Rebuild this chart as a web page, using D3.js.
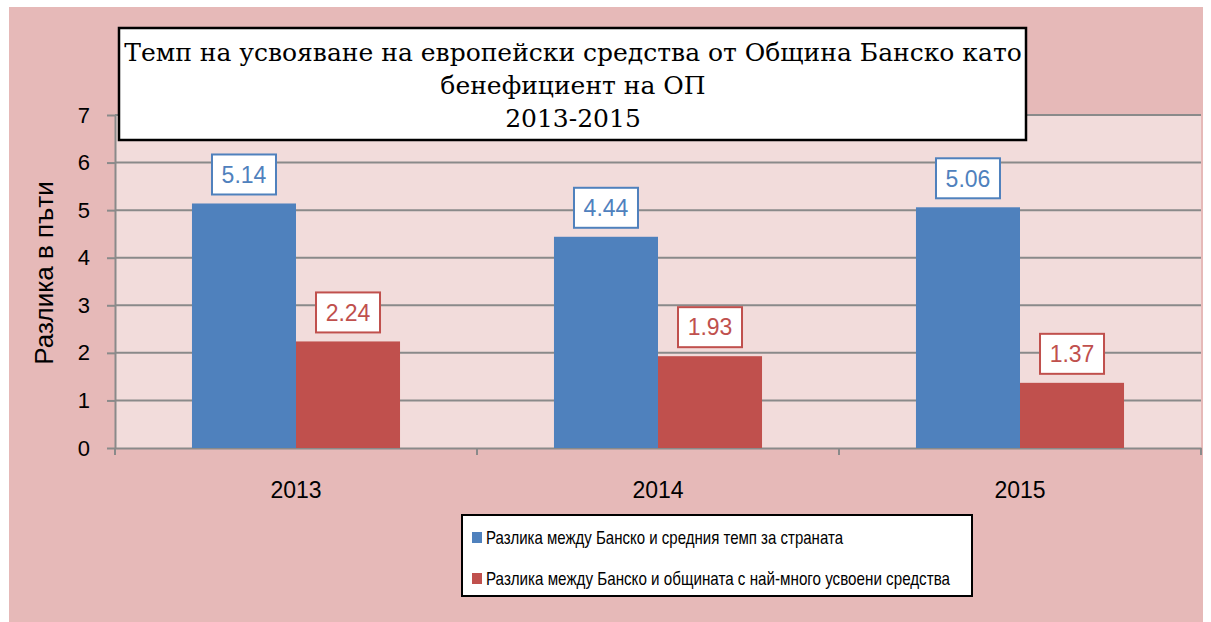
<!DOCTYPE html>
<html>
<head>
<meta charset="utf-8">
<script src="https://cdn.jsdelivr.net/npm/d3@7"></script>
<style>
  body { margin: 0; background: #fff; }
  svg { display: block; }
</style>
</head>
<body>
<div class="chart"></div>
<script>
/* Chart data
--------------------------------------------------- */
const years = ['2013', '2014', '2015'];
const seriesNames = [
  'Разлика между Банско и средния темп за страната',
  'Разлика между Банско и общината с най-много усвоени средства',
];
const avgDiff = [5.14, 4.44, 5.06];
const topDiff = [2.24, 1.93, 1.37];
const yTicks = [0, 1, 2, 3, 4, 5, 6, 7];
const titleLines = ['Темп на усвояване на европейски средства от Община Банско като', 'бенефициент на ОП', '2013-2015'];
const yTitle = 'Разлика в пъти';

const colors = ['#4F81BD', '#C0504D'];
const sansFont = "'Liberation Sans', Arial, sans-serif";

/* Set up svg and scales
--------------------------------------------------- */
const width = 1211;
const height = 622;
const plot = { left: 115, top: 115, right: 1201, bottom: 448 };

const svg = d3
  .select('.chart')
  .append('svg')
  .attr('width', width)
  .attr('height', height);

svg
  .append('rect')
  .attr('x', 9)
  .attr('y', 7)
  .attr('width', 1194)
  .attr('height', 615)
  .attr('fill', '#E6B9B8');

svg
  .append('rect')
  .attr('x', plot.left)
  .attr('y', plot.top)
  .attr('width', plot.right - plot.left)
  .attr('height', plot.bottom - plot.top)
  .attr('fill', '#F2DCDB');

const x = d3.scaleBand().domain(years).range([plot.left, plot.right]);
const x1 = d3
  .scaleBand()
  .domain([0, 1])
  .range([0, x.bandwidth()])
  .paddingOuter(0.74);
const y = d3.scaleLinear().domain([0, 7]).range([plot.bottom, plot.top]);

/* Grid lines and axes
--------------------------------------------------- */
svg
  .append('g')
  .selectAll('line')
  .data(yTicks.filter(d => d > 0))
  .enter()
  .append('line')
  .attr('x1', plot.left)
  .attr('x2', plot.right)
  .attr('y1', d => y(d))
  .attr('y2', d => y(d))
  .attr('stroke', '#8A8A8A')
  .attr('stroke-width', 2);

const yAxis = svg
  .append('g')
  .attr('transform', `translate(${plot.left},0)`)
  .call(
    d3
      .axisLeft(y)
      .tickValues(yTicks)
      .tickFormat(d3.format('d'))
      .tickSize(8)
      .tickPadding(17)
      .tickSizeOuter(0),
  );

const xAxis = svg
  .append('g')
  .attr('transform', `translate(0,${plot.bottom})`)
  .call(d3.axisBottom(x).tickSize(0).tickPadding(34).tickSizeOuter(0));

xAxis
  .selectAll('.cat-tick')
  .data([plot.left, ...years.map(d => x(d) + x.bandwidth())])
  .enter()
  .append('line')
  .attr('x1', d => d)
  .attr('x2', d => d)
  .attr('y1', 0)
  .attr('y2', 7)
  .attr('stroke', '#8A8A8A')
  .attr('stroke-width', 2);

[yAxis, xAxis].forEach(axis => {
  axis.selectAll('path, line').attr('stroke', '#8A8A8A').attr('stroke-width', 2);
  axis
    .selectAll('text')
    .attr('fill', '#000')
    .style('font-family', sansFont)
    .style('font-size', '22px');
});
xAxis.selectAll('.tick text').style('font-size', '23px');

svg
  .append('text')
  .attr('transform', 'translate(53,273) rotate(-90)')
  .attr('text-anchor', 'middle')
  .style('font-family', sansFont)
  .style('font-size', '26px')
  .text(yTitle);

/* Bars and data labels
--------------------------------------------------- */
const rows = years.map((year, i) => ({ year, values: [avgDiff[i], topDiff[i]] }));

const groups = svg
  .selectAll('.group')
  .data(rows)
  .enter()
  .append('g')
  .attr('transform', d => `translate(${x(d.year)},0)`);

const bars = groups
  .selectAll('.bar')
  .data(d => d.values.map((value, s) => ({ value, s })))
  .enter();

bars
  .append('rect')
  .attr('x', d => x1(d.s))
  .attr('y', d => y(d.value))
  .attr('width', x1.bandwidth())
  .attr('height', d => plot.bottom - y(d.value))
  .attr('fill', d => colors[d.s]);

const labels = bars
  .append('g')
  .attr('transform', d => `translate(${x1(d.s) + x1.bandwidth() / 2},${y(d.value) - 29})`);

labels
  .append('rect')
  .attr('x', -32)
  .attr('y', -20)
  .attr('width', 64)
  .attr('height', 40)
  .attr('fill', '#fff')
  .attr('stroke', d => colors[d.s])
  .attr('stroke-width', 2);

labels
  .append('text')
  .attr('text-anchor', 'middle')
  .attr('dy', '0.36em')
  .attr('fill', d => colors[d.s])
  .style('font-family', sansFont)
  .style('font-size', '23px')
  .text(d => d.value.toFixed(2));

/* Title box
--------------------------------------------------- */
svg
  .append('rect')
  .attr('x', 119)
  .attr('y', 28)
  .attr('width', 907)
  .attr('height', 112)
  .attr('fill', '#fff')
  .attr('stroke', '#000')
  .attr('stroke-width', 2.5);

svg
  .append('g')
  .selectAll('text')
  .data(titleLines)
  .enter()
  .append('text')
  .attr('x', 573)
  .attr('y', (d, i) => 61 + i * 33)
  .attr('text-anchor', 'middle')
  .style('font-family', "'DejaVu Serif', serif")
  .style('font-size', '25px')
  .text(d => d);

/* Legend
--------------------------------------------------- */
const legend = svg.append('g');

legend
  .append('rect')
  .attr('x', 462)
  .attr('y', 515)
  .attr('width', 510)
  .attr('height', 81)
  .attr('fill', '#fff')
  .attr('stroke', '#000')
  .attr('stroke-width', 2);

const legendItems = legend
  .selectAll('.item')
  .data(seriesNames)
  .enter()
  .append('g')
  .attr('transform', (d, i) => `translate(472,${537 + i * 41})`);

legendItems
  .append('rect')
  .attr('x', 0)
  .attr('y', -5)
  .attr('width', 10)
  .attr('height', 11)
  .attr('fill', (d, i) => colors[i]);

legendItems
  .append('text')
  .attr('x', 14)
  .attr('dy', '0.35em')
  .attr('textLength', (d, i) => (i === 0 ? 357 : 464))
  .attr('lengthAdjust', 'spacingAndGlyphs')
  .style('font-family', sansFont)
  .style('font-size', '19px')
  .text(d => d);
</script>
</body>
</html>
